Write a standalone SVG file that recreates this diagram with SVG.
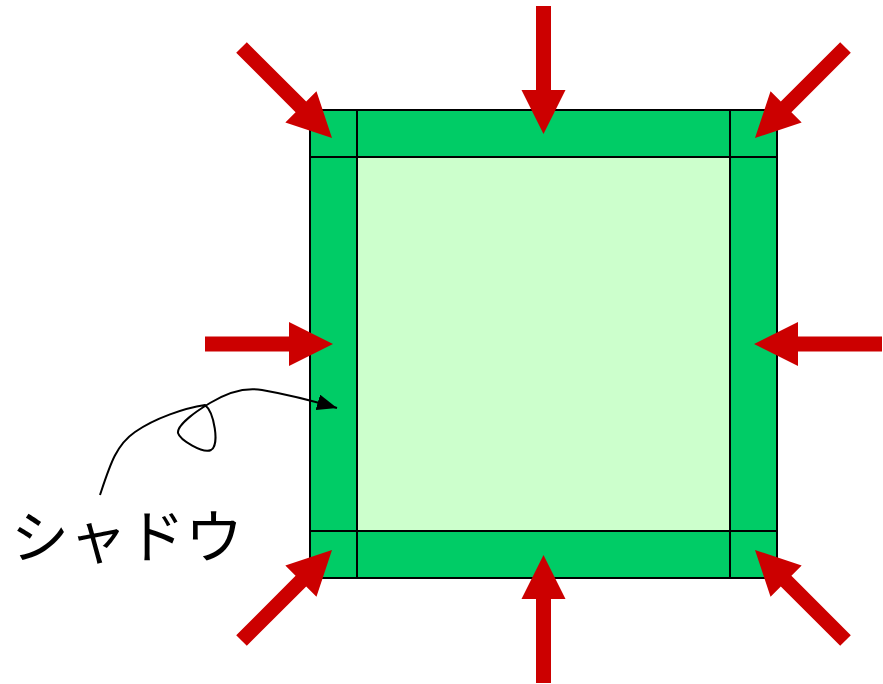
<svg xmlns="http://www.w3.org/2000/svg" width="883" height="684" viewBox="0 0 883 684">
<style>
.outer{fill:#00CC66;stroke:#000;stroke-width:2}
.inner{fill:#CCFFCC;stroke:#000;stroke-width:2}
.ln{stroke:#000;stroke-width:2;fill:none}
.red{fill:#CC0000}
.lbl{font-family:"Noto Sans CJK JP","Noto Sans",sans-serif;font-size:58px;fill:#000;font-weight:400}
</style>
<defs>
<path id="arr" d="M0,-7.5 L84,-7.5 L84,-22 L128,0 L84,22 L84,7.5 L0,7.5 Z"/>
<marker id="tri2" viewBox="0 0 20 16" refX="20" refY="8" markerWidth="20" markerHeight="16" markerUnits="userSpaceOnUse" orient="auto">
<path d="M0,0 L20,8 L0,16 Z" fill="#000"/>
</marker>
</defs>
<g id="frame">
<rect class="outer" x="310" y="110" width="467" height="468"/>
<rect class="inner" x="357" y="157" width="373" height="374"/>
<line class="ln" x1="310" y1="157" x2="357" y2="157"/>
<line class="ln" x1="357" y1="110" x2="357" y2="157"/>
<line class="ln" x1="730" y1="157" x2="777" y2="157"/>
<line class="ln" x1="730" y1="110" x2="730" y2="157"/>
<line class="ln" x1="310" y1="531" x2="357" y2="531"/>
<line class="ln" x1="357" y1="531" x2="357" y2="578"/>
<line class="ln" x1="730" y1="531" x2="777" y2="531"/>
<line class="ln" x1="730" y1="531" x2="730" y2="578"/>
</g>
<g id="label">
<text class="lbl" x="11" y="558">シャドウ</text>
</g>
<g id="connectors">
<use href="#arr" class="red" transform="translate(543.5,6) rotate(90)"/>
<use href="#arr" class="red" transform="translate(543.5,683) rotate(-90)"/>
<use href="#arr" class="red" transform="translate(205,344) rotate(0)"/>
<use href="#arr" class="red" transform="translate(882,344) rotate(180)"/>
<use href="#arr" class="red" transform="translate(241.5,47.5) rotate(45)"/>
<use href="#arr" class="red" transform="translate(845.5,47.5) rotate(135)"/>
<use href="#arr" class="red" transform="translate(241.5,640.5) rotate(-45)"/>
<use href="#arr" class="red" transform="translate(845.5,640.5) rotate(-135)"/>
<path class="ln" marker-end="url(#tri2)" d="M100,495 C110,465 116,445 135,432 C155,418 185,408 205,405 C214,412 220,445 211,450 C203,454 180,440 178,433 C177,425 195,412 210,403 C228,392 245,387 262,390 C285,394 310,400 337,408"/>
</g>
</svg>
